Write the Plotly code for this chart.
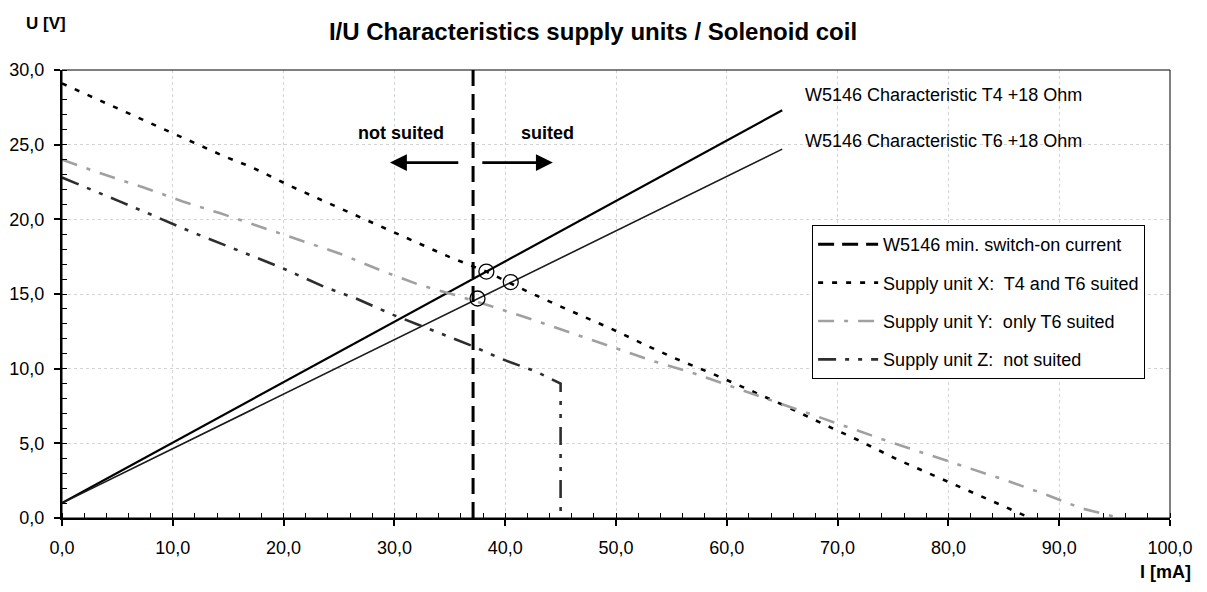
import plotly.graph_objects as go

# ---- data ----
char_i = [0, 65]
t4_u = [1.0, 27.3]
t6_u = [1.0, 24.7]

switch_i = [37.1, 37.1]
switch_u = [0, 30]

supply_x_i = [0, 2.7, 5.1, 7.5, 9.9, 12.3, 14.7, 17.1, 20.7, 24.0, 27.6, 31.3, 34.9, 38.3,
              42.2, 45.8, 49.5, 52.9, 55.3, 58.9, 62.5, 65.0, 68.4, 71.9, 75.3, 78.9, 82.5, 86.2, 87.4]
supply_x_u = [29.1, 28.2, 27.4, 26.6, 25.8, 25.0, 24.2, 23.5, 22.2, 21.1, 19.9, 18.7, 17.5, 16.5,
              15.1, 13.9, 12.7, 11.5, 10.7, 9.6, 8.4, 7.6, 6.4, 5.2, 3.95, 2.77, 1.6, 0.42, 0]

supply_y_i = [0, 3.4, 7.5, 10.9, 14.3, 17.9, 20.1, 25.1, 28.7, 32.3, 35.6, 38.9, 42.8, 46.3,
              49.8, 53.4, 57.0, 60.3, 63.6, 67.5, 70.8, 74.4, 78.0, 81.5, 85.3, 88.9, 92.0, 95.5]
supply_y_u = [24.0, 23.1, 22.1, 21.2, 20.4, 19.5, 18.95, 17.7, 16.6, 15.6, 14.9, 14.15, 13.2, 12.3,
              11.4, 10.5, 9.7, 8.84, 8.0, 6.97, 6.12, 5.18, 4.29, 3.44, 2.5, 1.54, 0.65, 0]

supply_z_i = [0, 2.2, 5.2, 8.1, 11.55, 19.7, 23.6, 26.7, 29.9, 37.1, 39.5, 42.8, 45.0, 45.0]
supply_z_u = [22.8, 22.1, 21.2, 20.3, 19.2, 16.8, 15.5, 14.65, 13.6, 11.5, 10.7, 9.8, 9.0, 0]

isect_i = [38.3, 40.5, 37.5]
isect_u = [16.5, 15.8, 14.7]

arrow_u = 23.8
arrow_left = (35.9, 29.6)
arrow_right = (37.8, 44.3)

x_ticks = [0, 10, 20, 30, 40, 50, 60, 70, 80, 90, 100]
y_ticks = [0, 5, 10, 15, 20, 25, 30]

FONT = "Liberation Sans, Arial, sans-serif"

# page body has an 8px margin -> figure is sized/placed to compensate
W, H = 1191, 576

fig = go.Figure()

fig.add_trace(go.Scatter(x=char_i, y=t4_u, mode="lines", line=dict(color="#000000", width=2.2),
                         showlegend=False, hoverinfo="skip"))
fig.add_trace(go.Scatter(x=char_i, y=t6_u, mode="lines", line=dict(color="#1a1a1a", width=1.6),
                         showlegend=False, hoverinfo="skip"))

fig.add_trace(go.Scatter(x=switch_i, y=switch_u, mode="lines", name="W5146 min. switch-on current",
                         legendgroup="a", line=dict(color="#000000", width=3, dash="16px,8px")))
fig.add_trace(go.Scatter(x=supply_x_i, y=supply_x_u, mode="lines", name="Supply unit X:  T4 and T6 suited",
                         legendgroup="b", line=dict(color="#000000", width=2.6, dash="5px,9px")))
fig.add_trace(go.Scatter(x=supply_y_i, y=supply_y_u, mode="lines", name="Supply unit Y:  only T6 suited",
                         legendgroup="c", line=dict(color="#a0a0a0", width=2.6, dash="16px,10px,4px,10px")))
fig.add_trace(go.Scatter(x=supply_z_i, y=supply_z_u, mode="lines", name="Supply unit Z:  not suited",
                         legendgroup="d", line=dict(color="#2e2e2e", width=2.6,
                                                    dash="18px,9px,4px,9px,4px,9px")))

fig.add_trace(go.Scatter(x=isect_i, y=isect_u, mode="markers", showlegend=False,
                         marker=dict(symbol="circle-open", size=15, color="#000000", line=dict(width=1.3))))

# arrows
for tail, head in (arrow_left, arrow_right):
    fig.add_annotation(x=head, y=arrow_u, ax=tail, ay=arrow_u, xref="x", yref="y", axref="x", ayref="y",
                       text="", showarrow=True, arrowhead=2, arrowsize=1.3, arrowwidth=2.6,
                       arrowcolor="#000000")

fig.add_annotation(x=30.6, y=25.8, xref="x", yref="y", text="<b>not suited</b>", showarrow=False,
                   font=dict(size=18, color="#000000", family=FONT))
fig.add_annotation(x=43.8, y=25.8, xref="x", yref="y", text="<b>suited</b>", showarrow=False,
                   font=dict(size=18, color="#000000", family=FONT))
fig.add_annotation(x=66.9, y=28.3, xref="x", yref="y", text="W5146 Characteristic T4 +18 Ohm",
                   showarrow=False, xanchor="left", font=dict(size=18, color="#000000", family=FONT))
fig.add_annotation(x=66.9, y=25.25, xref="x", yref="y", text="W5146 Characteristic T6 +18 Ohm",
                   showarrow=False, xanchor="left", font=dict(size=18, color="#000000", family=FONT))

fig.add_annotation(x=-0.014, y=1 + 47 / 448, xref="paper", yref="paper", text="<b>U [V]</b>",
                   showarrow=False, xanchor="center", yanchor="middle",
                   font=dict(size=17, family=FONT, color="#000000"))
fig.add_annotation(x=1 + 23 / 1108, y=-54 / 448, xref="paper", yref="paper", text="<b>I [mA]</b>",
                   showarrow=False, xanchor="right", yanchor="middle",
                   font=dict(size=18, family=FONT, color="#000000"))

fig.update_layout(
    width=W, height=H,
    margin=dict(l=54, r=29, t=62, b=66),
    paper_bgcolor="#ffffff", plot_bgcolor="#ffffff",
    separators=",.",
    font=dict(family=FONT, size=18, color="#000000"),
    title=dict(text="<b>I/U Characteristics supply units / Solenoid coil</b>",
               x=585 / W, xanchor="center", y=1 - 24 / H, yanchor="middle",
               font=dict(size=24, family=FONT, color="#000000")),
    showlegend=True,
    legend=dict(x=0.677, y=0.654, xanchor="left", yanchor="top",
                bgcolor="#ffffff", bordercolor="#000000", borderwidth=1,
                font=dict(size=18, family=FONT, color="#000000"),
                traceorder="grouped", tracegroupgap=12, itemwidth=60),
    shapes=[dict(type="rect", xref="paper", yref="paper", x0=0, y0=0, x1=1, y1=1,
                 line=dict(color="#000000", width=1), layer="above")],
)

fig.update_xaxes(range=[0, 100], tickvals=x_ticks, tickformat=".1f",
                 showline=True, linecolor="#000000", linewidth=2,
                 ticks="outside", ticklen=6, tickwidth=1.5, tickcolor="#000000",
                 ticklabelstandoff=6, automargin=False,
                 showgrid=True, gridcolor="#d4d4d4", griddash="dot", gridwidth=1,
                 zeroline=False,
                 minor=dict(dtick=2, ticks="inside", ticklen=5, tickcolor="#000000", tickwidth=1,
                            showgrid=False),
                 tickfont=dict(size=18, family=FONT, color="#000000"))
fig.update_yaxes(range=[0, 30], tickvals=y_ticks, tickformat=".1f",
                 showline=True, linecolor="#000000", linewidth=2,
                 ticks="outside", ticklen=6, tickwidth=1.5, tickcolor="#000000",
                 ticklabelstandoff=6, automargin=False,
                 showgrid=True, gridcolor="#d4d4d4", griddash="dot", gridwidth=1,
                 zeroline=False,
                 minor=dict(dtick=1, ticks="inside", ticklen=5, tickcolor="#000000", tickwidth=1,
                            showgrid=False),
                 tickfont=dict(size=18, family=FONT, color="#000000"))

fig.write_html("out.html")
